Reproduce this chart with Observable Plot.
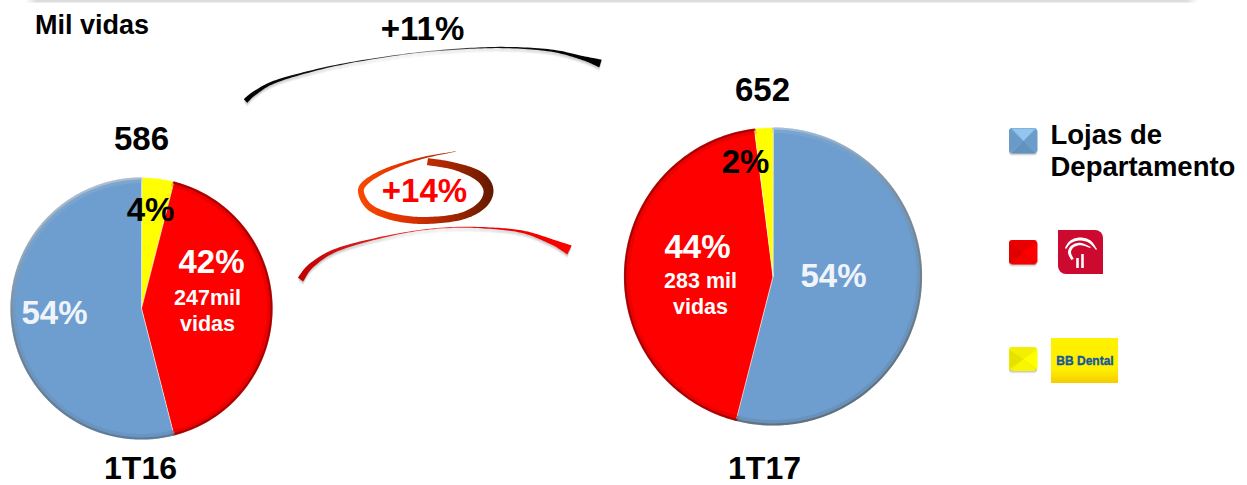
<!DOCTYPE html>
<html lang="pt">
<head>
<meta charset="utf-8">
<title>Mil vidas</title>
<script src="https://cdn.jsdelivr.net/npm/d3@7"></script>
<script src="https://cdn.jsdelivr.net/npm/@observablehq/plot@0.6"></script>
<style>
html,body{margin:0;padding:0;background:#fff}
svg{display:block}
</style>
</head>
<body>
<div id="chart"></div>
<script>
// ---- Data ----
const periods = ["1T16", "1T17"];
const totals = [586, 652];
const categories = ["Lojas de Departamento", "Bradesco", "BB Dental"];
const shares1T16 = [54, 42, 4];
const shares1T17 = [54, 44, 2];
const growthTotal = "+11%";
const growthBradesco = "+14%";
const unit = "Mil vidas";
const bradescoLives = ["247mil", "283 mil"];

// ---- Palette and layout (pixel-valued scales: 1 data unit = 1 px) ----
const W = 1247, H = 485;
const sliceFill = {
  "Lojas de Departamento": "#6d9ecf",
  "Bradesco": "#ff0000",
  "BB Dental": "#ffff00"
};
const pies = [
  {cx: 141, cy: 308, r: 131, shares: shares1T16, order: ["BB Dental", "Bradesco", "Lojas de Departamento"]},
  {cx: 772.5, cy: 276, r: 149, shares: shares1T17, order: ["Lojas de Departamento", "Bradesco", "BB Dental"]}
];

function pieSlices(p) {
  const value = (name) => p.shares[categories.indexOf(name)];
  const arcs = d3.pie().sort(null).value(value)(p.order);
  return arcs.map((a) => {
    const n = Math.max(3, Math.ceil((a.endAngle - a.startAngle) * 60));
    const arcAt = (r) => d3.range(n + 1).map((i) => {
      const t = a.startAngle + (a.endAngle - a.startAngle) * i / n;
      return [p.cx + r * Math.sin(t), p.cy - r * Math.cos(t)];
    });
    return {name: a.data, arcAt, pts: [[p.cx, p.cy], ...arcAt(p.r)]};
  });
}

// tapered ribbon around a Catmull-Rom centre line [x, y, width]
function ribbon(c) {
  const get = (i) => c[Math.max(0, Math.min(c.length - 1, i))];
  const s = [];
  for (let i = 0; i < c.length - 1; ++i) {
    const [p0, p1, p2, p3] = [get(i - 1), get(i), get(i + 1), get(i + 2)];
    for (let k = 0; k < 14; ++k) {
      const t = k / 14, f = (j) => 0.5 * (2 * p1[j] + (p2[j] - p0[j]) * t + (2 * p0[j] - 5 * p1[j] + 4 * p2[j] - p3[j]) * t * t + (3 * p1[j] - p0[j] - 3 * p2[j] + p3[j]) * t * t * t);
      s.push([f(0), f(1), f(2)]);
    }
  }
  s.push(c[c.length - 1]);
  const left = [], right = [];
  s.forEach((q, i) => {
    const a = s[Math.max(0, i - 1)], b = s[Math.min(s.length - 1, i + 1)];
    const dx = b[0] - a[0], dy = b[1] - a[1], d = Math.hypot(dx, dy) || 1;
    const w = Math.max(0, q[2]) / 2;
    left.push([q[0] - dy / d * w, q[1] + dx / d * w]);
    right.push([q[0] + dy / d * w, q[1] - dx / d * w]);
  });
  return left.concat(right.reverse());
}

const blackArc = [[245, 100.5, 5], [255, 92, 4], [278, 80, 2.6], [335, 65, 1.2], [402, 54, .7], [452, 49, .9], [502, 47, 1.3], [550, 50, 2.2], [582, 57.5, 4], [600, 63, 8]];
const redArc = [[300, 279, 6.5], [312, 264, 5], [340, 248, 3], [400, 233, 1.1], [450, 227, .9], [495, 228, 1.6], [525, 232, 2.8], [553, 242, 5.5], [569, 249.5, 10]];
const ring = [[455, 151, .3], [420, 158, 2], [385, 170, 4], [364, 183, 5.5], [361, 194, 6], [371, 208, 6.5], [395, 217, 7], [425, 220, 7], [460, 216, 7], [481, 205, 8.5], [488, 190, 10], [479, 176, 10], [455, 166, 7.5], [427, 161, 7]];

const domeOuter = [[1065, 248, 1.4], [1070, 241.5, 2.6], [1079, 238.5, 3], [1089, 241, 2.8], [1096, 249, 1.2]];
const domeInner = [[1072, 259, 2.6], [1069, 252, 3], [1072, 246, 2.8], [1080, 243.5, 2.4], [1090, 247, 1]];

function facets(x1, y1, x2, y2) {
  const mx = (x1 + x2) / 2, my = (y1 + y2) / 2, c = 2;
  return {
    top: [[x1 + c, y1], [x2 - c, y1], [mx, my]],
    left: [[x1, y1 + c], [x1, y2 - c], [mx, my]],
    right: [[x2, y1 + c], [x2, y2 - c], [mx, my]],
    bottom: [[x1 + c, y2], [x2 - c, y2], [mx, my]]
  };
}
const swatches = [
  {box: [1009, 128, 1037, 153], colors: {base: "#6f9fcb", top: "#93c5ee", left: "#6a9bc8", right: "#6c9dca", bottom: "#6292c0"}},
  {box: [1009, 240, 1037, 264], colors: {base: "#ee0000", top: "#ea0000", left: "#e00000", right: "#ff0000", bottom: "#f60000"}},
  {box: [1009, 347, 1037, 370.5], colors: {base: "#f4f000", top: "#f3ef00", left: "#e6e200", right: "#ffff00", bottom: "#faf600"}}
];

// ---- Text labels ----
const textStrings = [unit, growthTotal, String(totals[0]), String(totals[1]), periods[0], periods[1],
  "4%", "42%", bradescoLives[0], "vidas", "54%",
  "2%", "44%", bradescoLives[1], "vidas", "54%", growthBradesco];
const textX = [91.5, 422, 141, 762, 140, 764, 150, 211, 207, 207, 54, 745, 697, 700, 700, 833, 424];
const textY = [25, 29, 139, 90, 468, 468, 210, 262, 298, 324, 313, 162, 247, 281, 307, 276, 191];
const textSize = [27, 33, 33, 33, 32, 32, 33, 33, 21.5, 21.5, 33, 33, 33, 21.5, 21.5, 33, 33];
const textFill = ["#000", "#000", "#000", "#000", "#000", "#000", "#000", "#fff", "#fff", "#fff", "#f0f4fa", "#000", "#fff", "#fff", "#fff", "#f0f4fa", "#ff0000"];
const labels = textStrings.map((text, i) => ({text, x: textX[i], y: textY[i], size: textSize[i], fill: textFill[i]}));

// ---- Gradients, added as a small function mark ----
const NS = "http://www.w3.org/2000/svg";
function defsMark() {
  const g = document.createElementNS(NS, "g");
  const stops = (s) => s.map(([o, c]) => `<stop offset="${o}" stop-color="${c}"/>`).join("");
  g.innerHTML = `<defs>
    <linearGradient id="edge0" gradientUnits="userSpaceOnUse" x1="70" y1="190" x2="130" y2="440">${stops([[0, "#b5c2d0"], [.5, "#6f7d8a"], [1, "#5a7390"]])}</linearGradient>
    <linearGradient id="edge1" gradientUnits="userSpaceOnUse" x1="780" y1="125" x2="880" y2="400">${stops([[0, "#a9c3de"], [.35, "#7f8a94"], [1, "#5a6772"]])}</linearGradient>
    <linearGradient id="gBlack" gradientUnits="userSpaceOnUse" x1="245" y1="0" x2="600" y2="0">${stops([[0, "#000"], [.35, "#222"], [.5, "#777"], [.7, "#111"], [1, "#000"]])}</linearGradient>
    <linearGradient id="gRedArc" gradientUnits="userSpaceOnUse" x1="300" y1="0" x2="570" y2="0">${stops([[0, "#c00000"], [.5, "#f04040"], [.7, "#e80000"], [1, "#ff0000"]])}</linearGradient>
    <linearGradient id="gRing" gradientUnits="userSpaceOnUse" x1="358" y1="0" x2="493" y2="0">${stops([[0, "#f84a00"], [.35, "#e03200"], [.7, "#a02600"], [1, "#641800"]])}</linearGradient>
    <linearGradient id="gRule" gradientUnits="userSpaceOnUse" x1="25" y1="0" x2="1198" y2="0">${stops([[0, "#ffffff"], [.01, "#dddddd"], [.99, "#dddddd"], [1, "#ffffff"]])}</linearGradient>
    <linearGradient id="gBB" x1="0" y1="0" x2="0" y2="1">${stops([[0, "#fff200"], [.7, "#ffee00"], [1, "#f6cc00"]])}</linearGradient>
  </defs>`;
  return g;
}

// ---- Helpers for polygon marks ----
const poly = (pts, options) => Plot.line(pts, {x: "0", y: "1", curve: "linear-closed", ...options});
const shadowed = (pts, fill) => [
  ...[[1, 0.07], [2, 0.07], [3, 0.06], [4, 0.04]].map(([dy, a]) => poly(pts, {fill: "#000", fillOpacity: a, dy})),
  poly(pts, {fill})
];

const marks = [defsMark, Plot.ruleY([0.8], {x1: 25, x2: 1198, stroke: "url(#gRule)", strokeWidth: 2.5})];

pies.forEach((p, i) => {
  const slices = pieSlices(p);
  slices.forEach((s) => {
    marks.push(poly(s.pts, {fill: sliceFill[s.name], stroke: "#ffffff", strokeOpacity: 0.5, strokeWidth: 1}));
  });
  // bevelled rim, one arc per slice
  slices.forEach((s) => {
    if (s.name === "BB Dental") return;
    const edge = s.name === "Bradesco" ? "#9a0000" : `url(#edge${i})`;
    marks.push(Plot.line(s.arcAt(p.r - 3.5), {x: "0", y: "1", stroke: edge, strokeWidth: 4, strokeOpacity: 0.22}));
    marks.push(Plot.line(s.arcAt(p.r - 1), {x: "0", y: "1", stroke: edge, strokeWidth: 2.2, strokeOpacity: 0.85}));
  });
});

marks.push(...shadowed(ribbon(blackArc), "url(#gBlack)"));
marks.push(...shadowed(ribbon(redArc), "url(#gRedArc)"));
marks.push(poly(ribbon(ring), {fill: "url(#gRing)"}));

swatches.forEach((s) => {
  const f = facets(...s.box);
  for (const [dy, a] of [[1, 0.12], [2, 0.1], [3, 0.06]]) {
    marks.push(Plot.rect([s.box], {x1: "0", y1: "1", x2: "2", y2: "3", rx: 3, fill: "#000", fillOpacity: a, dy}));
  }
  marks.push(Plot.rect([s.box], {x1: "0", y1: "1", x2: "2", y2: "3", rx: 3, fill: s.colors.base}));
  for (const k of ["left", "right", "bottom", "top"]) marks.push(poly(f[k], {fill: s.colors[k]}));
});

// Bradesco logo
marks.push(Plot.rect([[1058, 230, 1103, 274]], {x1: "0", y1: "1", x2: "2", y2: "3", rx: 8, fill: "#cc0a2f"}));
marks.push(Plot.rect([[1058, 230, 1072, 244], [1089, 260, 1103, 274]], {x1: "0", y1: "1", x2: "2", y2: "3", fill: "#cc0a2f"}));
marks.push(poly(ribbon(domeOuter), {fill: "#fff"}));
marks.push(poly(ribbon(domeInner), {fill: "#fff"}));
marks.push(Plot.ruleX([[1077, 258, 268], [1082, 254, 268]], {x: "0", y1: "1", y2: "2", stroke: "#fff", strokeWidth: 2.6}));

// BB Dental logo
marks.push(Plot.rect([[1051, 338, 1118, 383]], {x1: "0", y1: "1", x2: "2", y2: "3", fill: "url(#gBB)"}));
marks.push(Plot.text(["BB Dental"], {x: 1084.5, y: 361, text: (d) => d, fontSize: 12, fontWeight: "bold", fill: "#15589a", stroke: "#15589a", strokeWidth: 0.35, lineAnchor: "middle"}));

// Legend text
marks.push(Plot.text(["Lojas de", "Departamento"], {x: 1050, y: (d, i) => [135, 167][i], text: (d) => d, textAnchor: "start", lineAnchor: "middle", fontSize: 27.5, fontWeight: "bold", fill: "#000"}));

// Labels
marks.push(Plot.text(labels, {x: "x", y: "y", text: "text", fontSize: "size", fill: "fill", fontWeight: "bold", lineAnchor: "middle"}));

const chart = Plot.plot({
  width: W, height: H,
  margin: 0,
  x: {domain: [0, W], range: [0, W], axis: null},
  y: {domain: [0, H], range: [0, H], axis: null},
  color: {type: "identity"},
  style: {fontFamily: "'Liberation Sans', Arial, sans-serif", background: "#fff", overflow: "hidden"},
  marks
});
document.getElementById("chart").appendChild(chart);
</script>
</body>
</html>
